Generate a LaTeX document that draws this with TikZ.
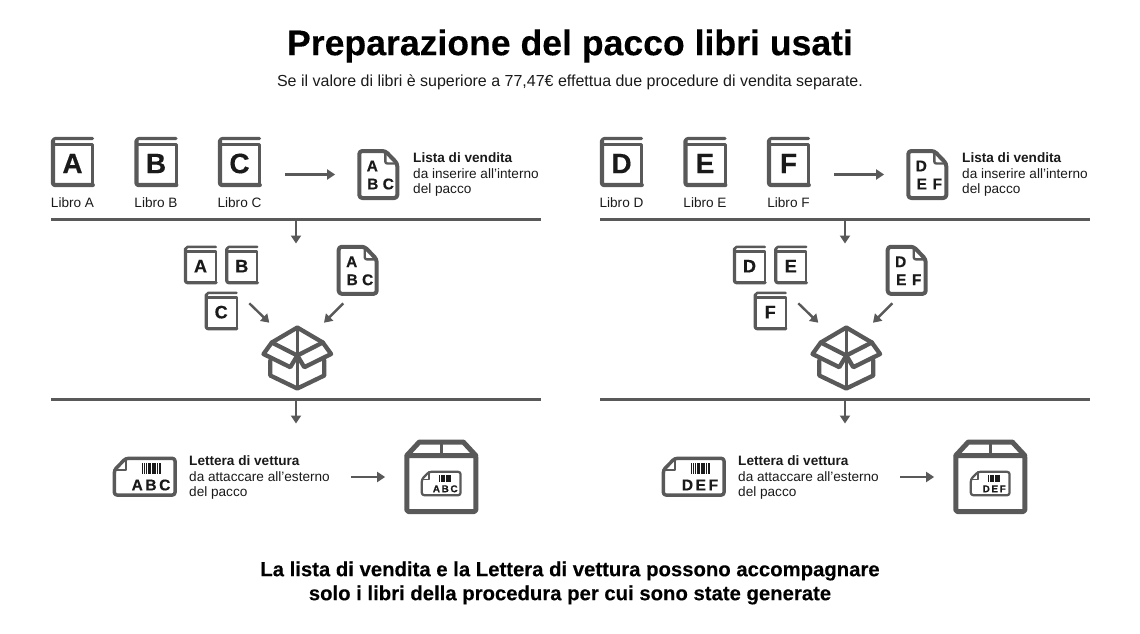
\documentclass[tikz,border=0pt]{standalone}
\usepackage{fontspec}
\setmainfont{Liberation Sans}
\usetikzlibrary{arrows.meta,calc}

\definecolor{icongray}{HTML}{595959}
\definecolor{inkdark}{HTML}{1A1A1A}

\tikzset{
  arrowline/.style = {draw = icongray, line width = 2.4pt, -{Triangle[length = 8pt, width = 10pt]}},
  ruleline/.style = {draw = icongray, line width = 3pt},
  iconline/.style = {draw = icongray, line join = round, line cap = round},
  iconletter/.style = {inner sep = 0pt, text = inkdark, transform shape, font = \bfseries\fontsize{#1}{#1}\selectfont\addfontfeature{FakeBold = 0.4}},
  bodytext/.style = {inner sep = 0pt, text = inkdark, font = \fontsize{13.6}{15.3}\selectfont},
  notetext/.style = {bodytext, anchor = west, align = left},
  headtext/.style = {inner sep = 0pt, text = black, align = center, font = \bfseries\fontsize{#1}{24}\selectfont\addfontfeature{FakeBold = 0.2}}
}

% name, position, scale, letter size, letter
\newcommand{\bookicon}[5]{
  \begin{scope}[shift = {#2}, scale = #3]
    \node[iconletter = #4, minimum width = 43pt, minimum height = 50pt] (#1) at (0,1.5) {#5};
    \draw[iconline, line width = #3*3.2pt] (20,-23.5) -- (-17,-23.5) to[out = 180, in = 90] (-19.5,-21);
    \draw[iconline, line width = #3*4.2pt, rounded corners = 2pt] (-19.5,-21) -- (-19.5,23) -- (20.3,23);
    \draw[iconline, line width = #3*2.7pt] (20.3,23) -- (20.3,-17.5) -- (-19.5,-17.5);
  \end{scope}
}

% name, position, top letter, lower letters
\newcommand{\listicon}[5]{
  \begin{scope}[shift = {#2}]
    \node[minimum width = 42pt, minimum height = 51pt, inner sep = 0pt] (#1) at (0,0) {};
    \draw[iconline, line width = 4pt, rounded corners = 3pt] (-19,-23.5) -- (7,-23.5) -- (19,-11) -- (19,23.5) -- (-19,23.5) -- cycle;
    \draw[iconline, line width = 2.4pt, rounded corners = 2pt] (7,-23.5) -- (7,-11) -- (19,-11);
    \node[iconletter = 15.5] (#1-a) at (-6,-8.5) {#3};
    \node[iconletter = 15.5] (#1-b) at (-5.5,9.5) {#4};
    \node[iconletter = 15.5] (#1-c) at (10,9.5) {#5};
  \end{scope}
}

% name, position, scale, text
\newcommand{\lettericon}[4]{
  \begin{scope}[shift = {#2}, scale = #3]
    \node[minimum width = 64pt, minimum height = 40pt, inner sep = 0pt, transform shape] (#1) at (0,0) {};
    \draw[iconline, line width = #3*3.5pt, rounded corners = 2.5pt] (-30.3,-6.7) -- (-19,-18.3) -- (30.3,-18.3) -- (30.3,18.3) -- (-30.3,18.3) -- cycle;
    \draw[iconline, line width = #3*1.8pt] (-19,-18.3) -- (-19,-6.7) -- (-30.3,-6.7);
    \foreach \barx/\barw in {-3/1.4,-.7/.8,.9/1.4,3.1/.8,4.7/1.4,6.9/.8,8.5/1.4,10.7/.8,12.3/1.4,14.5/1.4} {
      \fill[inkdark] (\barx,-13.4) rectangle ++(\barw,11);
    }
    \node[iconletter = 15.5] (#1-t) at (6.3,8.3) {#4};
  \end{scope}
}

% name, position
\newcommand{\openboxicon}[2]{
  \begin{scope}[shift = {#2}]
    \node[minimum width = 72pt, minimum height = 64pt, inner sep = 0pt] (#1) at (0,0) {};
    \draw[iconline, line width = 2.5pt] (0,-30) -- (0,31);
    \draw[iconline, line width = 4.3pt] (0,-30) -- (25.5,-15) -- (33.8,-3.5) -- (7,9.7) -- (0,-2) -- (-7,9.7) -- (-33.8,-3.5) -- (-25.5,-15) -- cycle;
    \draw[iconline, line width = 4.3pt] (-25.5,-15) -- (0,-2) -- (25.5,-15);
    \draw[iconline, line width = 4.3pt] (-27,3) -- (-27,18) -- (0,31) -- (27,18) -- (27,3);
  \end{scope}
}

% name, position
\newcommand{\closedboxicon}[2]{
  \begin{scope}[shift = {#2}]
    \node[minimum width = 74pt, minimum height = 75pt, inner sep = 0pt] (#1) at (0,0) {};
    \draw[iconline, line width = 5pt, rounded corners = 1.5pt] (-34.5,-21) rectangle (34.5,35);
    \draw[iconline, line width = 5pt] (-34.5,-21) -- (-22,-34.5) -- (22,-34.5) -- (34.5,-21);
    \draw[iconline, line width = 3pt] (0,-34.5) -- (0,-21);
  \end{scope}
}

% prefix, shift, three letters
\newcommand{\sellpanel}[5]{
  \begin{scope}[xshift = #2]
    \bookicon{#1-book1}{(72.5,162)}{1}{28}{#3}
    \bookicon{#1-book2}{(156,162)}{1}{28}{#4}
    \bookicon{#1-book3}{(239.5,162)}{1}{28}{#5}
    \node[bodytext] (#1-name1) at (72.5,203) {Libro #3};
    \node[bodytext] (#1-name2) at (156,203) {Libro #4};
    \node[bodytext] (#1-name3) at (239.5,203) {Libro #5};
    \listicon{#1-list}{(378.3,174.5)}{#3}{#4}{#5}
    \node[notetext] (#1-listnote) at (413,174.5) {\textbf{Lista di vendita}\\da inserire all’interno\\del pacco};
    \draw[arrowline, shorten <= 24pt, shorten >= 22pt] (#1-book3.east |- #1-list.west) -- (#1-list.west);

    \coordinate (#1-rule1l) at (51,219.5);
    \coordinate (#1-rule1r) at (541,219.5);
    \coordinate (#1-rule2l) at (51,399.5);
    \coordinate (#1-rule2r) at (541,399.5);
    \coordinate (#1-drop1) at (296,243.5);
    \coordinate (#1-drop2) at (296,423.5);
    \draw[ruleline] (#1-rule1l) -- (#1-rule1r);
    \draw[ruleline] (#1-rule2l) -- (#1-rule2r);
    \draw[arrowline] ($(#1-rule1l)!.5!(#1-rule1r)$) -- (#1-drop1);
    \draw[arrowline] ($(#1-rule2l)!.5!(#1-rule2r)$) -- (#1-drop2);

    \bookicon{#1-small1}{(200.5,265)}{.77}{23.5}{#3}
    \bookicon{#1-small2}{(241.8,265)}{.77}{23.5}{#4}
    \bookicon{#1-small3}{(221.2,311)}{.77}{23.5}{#5}
    \listicon{#1-copy}{(357.7,270.3)}{#3}{#4}{#5}
    \openboxicon{#1-open}{(297.3,357.5)}
    \coordinate (#1-in1s) at (249.3,303.3);
    \coordinate (#1-in1e) at (269.3,322.7);
    \coordinate (#1-in2s) at (343.3,303.3);
    \coordinate (#1-in2e) at (324,322.7);
    \draw[arrowline] (#1-in1s) -- (#1-in1e);
    \draw[arrowline] (#1-in2s) -- (#1-in2e);

    \lettericon{#1-letter}{(144.7,476.7)}{1}{#3\,#4\,#5}
    \node[notetext] (#1-letternote) at (189,477.5) {\textbf{Lettera di vettura}\\da attaccare all’esterno\\del pacco};
    \closedboxicon{#1-closed}{(441.3,476.5)}
    \lettericon{#1-tag}{(441.2,483.5)}{.64}{#3\,#4\,#5}
    \coordinate (#1-out) at (351,477);
    \draw[arrowline, shorten >= 19pt] (#1-out) -- (#1-closed.west |- #1-out);
  \end{scope}
}

\begin{document}
\begin{tikzpicture}[x = 1pt, y = -1pt]
\useasboundingbox (0,0) rectangle (1140,633);
\node[headtext = 35.6] (title) at (570,46) {Preparazione del pacco libri usati};
\node[bodytext, font = \fontsize{16}{18}\selectfont] (subtitle) at (570,82.5) {Se il valore di libri è superiore a 77,47€ effettua due procedure di vendita separate.};
\sellpanel{left}{0pt}{A}{B}{C}
\sellpanel{right}{549pt}{D}{E}{F}
\node[headtext = 20.3] (closing) at (570,583) {La lista di vendita e la Lettera di vettura possono accompagnare\\solo i libri della procedura per cui sono state generate};
\end{tikzpicture}
\end{document}
